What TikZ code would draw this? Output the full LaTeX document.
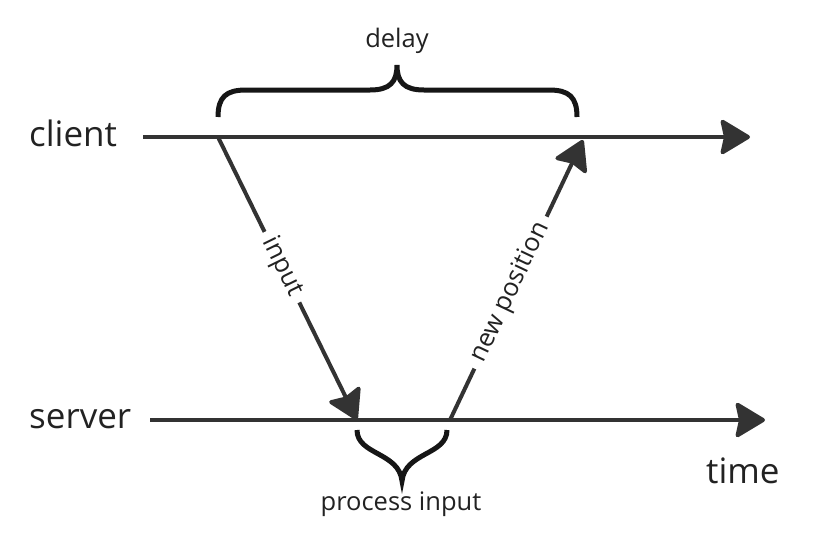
\documentclass[tikz,border=0pt]{standalone}
\usepackage{fontspec}
\setmainfont{Open Sans}
\usetikzlibrary{arrows.meta}
\definecolor{linegray}{HTML}{333333}
\definecolor{bracegray}{HTML}{161616}
\definecolor{textgray}{HTML}{222222}

\begin{document}
\begin{tikzpicture}[x=1pt, y=-1pt,
    timeline/.style={line width=4pt, linegray, -{Stealth[length=32pt, width=38pt, inset=4pt, round]}},
    brace/.style={line width=5pt, bracegray},
    big/.style={text=textgray, font=\fontsize{35}{42}\selectfont, inner sep=0pt},
    small/.style={text=textgray, font=\fontsize{25.5}{30}\selectfont, inner sep=0pt},
    gaplbl/.style={small, fill=white, sloped, inner xsep=8pt, inner ysep=3pt}]
    \useasboundingbox (0,0) rectangle (824,549);

    % Time lines
    \coordinate (c0) at (143,137); \coordinate (c1) at (750,137);
    \coordinate (s0) at (150,420); \coordinate (s1) at (765,420);
    \draw[timeline] (c0) -- (c1);
    \draw[timeline] (s0) -- (s1);
    \node[big, anchor=base west] (client) at (29,146) {client};
    \node[big, anchor=base west] (server) at (29,428) {server};
    \node[big, anchor=base west] (time) at (706,483) {time};

    % Messages
    \coordinate (cin) at (218,137); \coordinate (sin) at (357,420);
    \coordinate (sout) at (450,420); \coordinate (cout) at (583,140);
    \draw[timeline] (cin) -- node[gaplbl, pos=0.46] (inputlbl) {input} (sin);
    \draw[timeline] (sout) -- node[gaplbl, pos=0.455] (newposlbl) {new position} (cout);

    % Braces
    \draw[brace] (218,117) .. controls (218,97) and (226,90) .. (246,90) -- (370,90)
        .. controls (390,90) and (397,82) .. (397,65)
        .. controls (397,82) and (404,90) .. (424,90) -- (549,90)
        .. controls (569,90) and (577,97) .. (577,117);
    \node[small, anchor=base] (delay) at (397,47) {delay};

    \draw[brace] (357,430) .. controls (357,455) and (399,452) .. (402,481)
        .. controls (405,452) and (447,455) .. (447,430);
    \node[small, anchor=base] (process) at (401,510) {process input};
\end{tikzpicture}
\end{document}
